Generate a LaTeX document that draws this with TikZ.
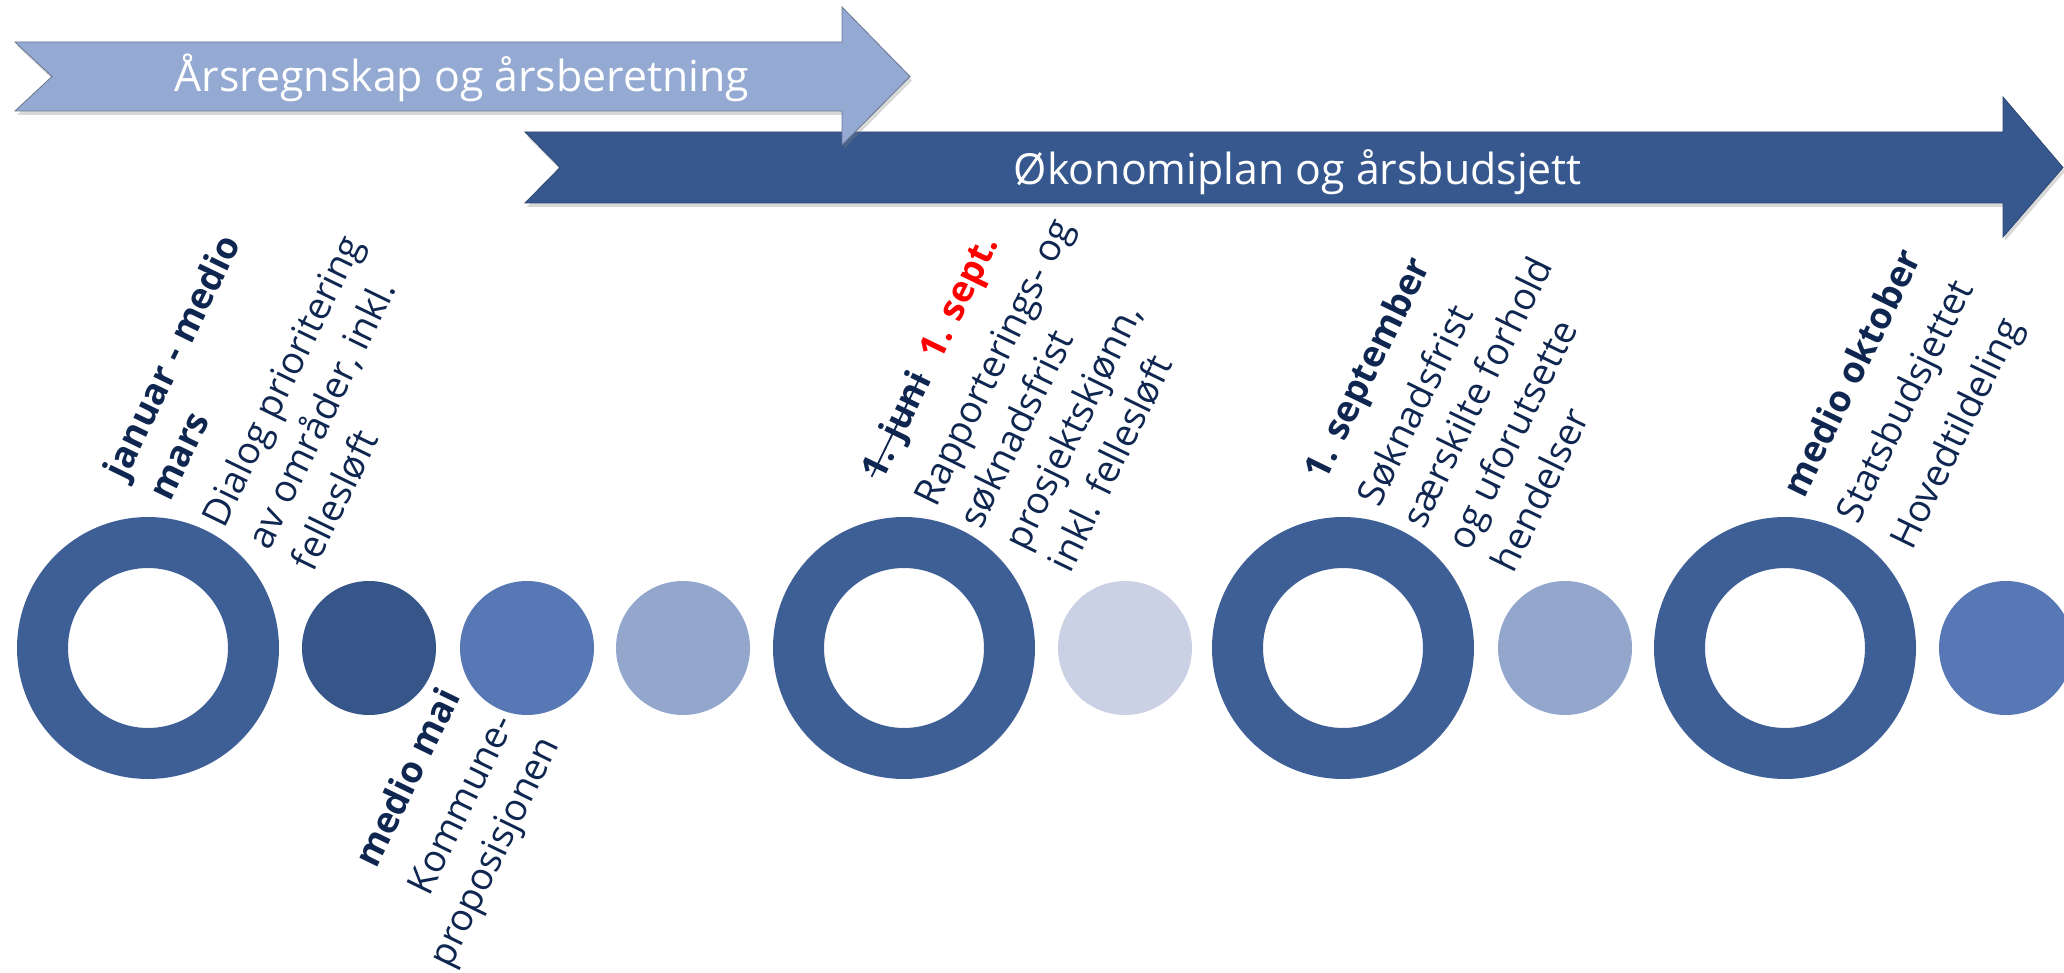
\documentclass[tikz,border=0pt]{standalone}
\usepackage{fontspec}
\setmainfont{Open Sans}
\usetikzlibrary{shadows}

\definecolor{paleblue}{RGB}{149,170,210}
\definecolor{deepblue}{RGB}{55,88,142}
\definecolor{ringblue}{RGB}{62,95,149}
\definecolor{dotA}{RGB}{54,85,137}
\definecolor{dotB}{RGB}{87,120,181}
\definecolor{dotC}{RGB}{147,166,204}
\definecolor{dotD}{RGB}{203,209,229}
\definecolor{navy}{RGB}{14,38,80}

\newcommand\crossout[1]{\setbox0\hbox{#1}\rlap{\rule[0.3em]{\wd0}{0.05em}}\box0}
\newcommand\hd[1]{{\fontsize{36.5}{50}\selectfont\bfseries #1}}

\tikzset{
  ring/.style={circle,draw=ringblue,line width=51pt,minimum size=211pt,inner sep=0pt},
  disc/.style={circle,fill=#1,minimum size=134pt,inner sep=0pt},
  lbl/.style={rotate=64,align=left,text=navy,inner sep=0pt,font=\fontsize{37.5}{50}\selectfont},
  bandtext/.style={text=white,font=\fontsize{42.8}{50}\selectfont,inner sep=0pt,anchor=base},
  band/.style={line width=0.8pt,drop shadow={opacity=0.3,shadow xshift=2pt,shadow yshift=-4pt}}
}

\begin{document}
\begin{tikzpicture}[x=1pt,y=-1pt]
\useasboundingbox (0,0) rectangle (2064,973);
% bands
\path[band,fill=deepblue,draw=deepblue!80!black] (525,132) -- (2003,132) -- (2003,97) -- (2063,167.5) -- (2003,237) -- (2003,203) -- (525,203) -- (560,167.5) -- cycle;
\node[bandtext] (budget) at (1298,185) {Økonomiplan og årsbudsjett};
\path[band,fill=paleblue,draw=paleblue!70!black] (15,42) -- (842,42) -- (842,7) -- (910,76.5) -- (842,145) -- (842,111) -- (15,111) -- (52,76.5) -- cycle;
\node[bandtext] (accounts) at (462,92) {Årsregnskap og årsberetning};

% timeline
\node[ring] (r1) at (148,648) {};
\node[disc=dotA] (d1) at (369,648) {};
\node[disc=dotB] (d2) at (527,648) {};
\node[disc=dotC] (d3) at (683,648) {};
\node[ring] (r2) at (904,648) {};
\node[disc=dotD] (d4) at (1125,648) {};
\node[ring] (r3) at (1343,648) {};
\node[disc=dotC] (d5) at (1565,648) {};
\node[ring] (r4) at (1785,648) {};
\node[disc=dotB] (d6) at (2006,648) {};

% labels
\node[lbl,anchor=north west] (jan) at (100,469) {\hd{januar - medio}\\\hd{mars}\\[10pt]Dialog prioritering\\av områder, inkl.\\fellesløft};
\node[lbl,anchor=north east,align=right] (mai) at (436,684) {\hd{medio mai}\\[10pt]Kommune-\\proposisjonen};
\node[lbl,anchor=north west] (juni) at (857,470) {\hd{\crossout{1. juni}\ \ \color{red}1. sept.}\\[10pt]Rapporterings- og\\søknadsfrist\\prosjektskjønn,\\inkl. fellesløft};
\node[lbl,anchor=north west] (sep) at (1300,470) {\hd{1. september}\\[10pt]Søknadsfrist\\særskilte forhold\\og uforutsette\\hendelser};
\node[lbl,anchor=north west] (okt) at (1779,487) {\hd{medio oktober}\\[10pt]Statsbudsjettet\\[10pt]Hovedtildeling};
\end{tikzpicture}
\end{document}
